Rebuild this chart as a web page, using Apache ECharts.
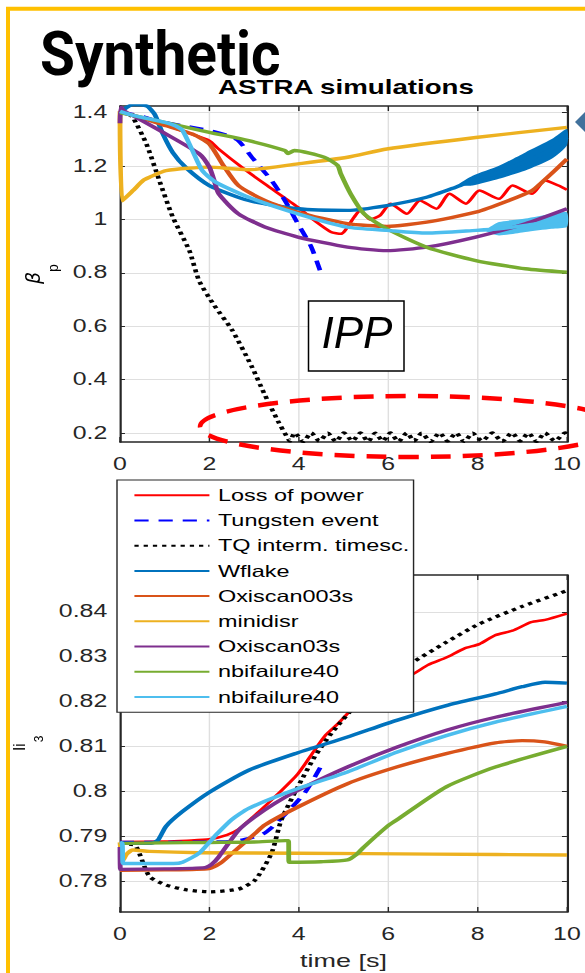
<!DOCTYPE html>
<html>
<head>
<meta charset="utf-8">
<script src="https://cdn.jsdelivr.net/npm/echarts@6/dist/echarts.min.js"></script>
<style>
  html, body { margin: 0; padding: 0; background: #fff; }
  #wrap { position: relative; width: 585px; height: 973px; overflow: hidden; }
  #plots { position: absolute; left: 0; top: 0; width: 412px; height: 973px; transform-origin: 0 0; }
  #marks { position: absolute; left: 0; top: 0; width: 585px; height: 973px; pointer-events: none; }
</style>
</head>
<body>
<div id="wrap"><div id="plots"></div><div id="marks"></div></div>
<script>
// ---- tick labels ----
const timeTicks = [0, 2, 4, 6, 8, 10];
const betaTicks = [0.2, 0.4, 0.6, 0.8, 1, 1.2, 1.4];
const li3Ticks = [0.78, 0.79, 0.8, 0.81, 0.82, 0.83, 0.84];

// ---- legend / series names ----
const seriesNames = ['Loss of power', 'Tungsten event', 'TQ interm. timesc.', 'Wflake',
  'Oxiscan003s', 'minidisr', 'Oxiscan03s', 'nbifailure40', 'nbifailure40 '];

// ---- beta_p vs time [s] ----
const betaLossPower = [[0,1.40],[0.5,1.38],[1.0,1.355],[1.5,1.325],[2.0,1.295],[2.2,1.265],[2.73,1.195],[3.24,1.133],[3.98,1.046],[4.35,0.996],[4.72,0.953],[4.94,0.946],[5.24,1.009],[5.38,1.034],[5.6,1.0],[5.82,1.015],[6.05,1.059],[6.42,1.021],[6.71,1.071],[7.08,1.04],[7.37,1.096],[7.74,1.059],[8.04,1.108],[8.48,1.077],[8.78,1.127],[9.22,1.096],[9.51,1.146],[9.81,1.127],[10,1.111]];
const betaTungsten = [[0,1.40],[0.4,1.39],[0.81,1.37],[1.4,1.351],[2.0,1.333],[2.4,1.315],[2.65,1.295],[2.95,1.233],[3.39,1.146],[3.69,1.071],[3.98,0.984],[4.28,0.897],[4.5,0.797]];
const betaTQ = [[0,1.40],[0.18,1.395],[0.29,1.382],[0.59,1.283],[0.88,1.146],[1.18,1.009],[1.55,0.884],[1.77,0.77],[2.1,0.68],[2.51,0.585],[2.95,0.448],[3.24,0.343],[3.54,0.243],[3.72,0.19],[3.8,0.17],[3.91,0.2],[4.1,0.168],[4.28,0.2],[4.46,0.17],[4.65,0.199],[4.83,0.168],[5.01,0.2],[5.2,0.17],[5.38,0.2],[5.55,0.168],[5.71,0.199],[5.88,0.17],[6.05,0.2],[6.23,0.168],[6.42,0.2],[6.58,0.17],[6.75,0.199],[6.95,0.168],[7.15,0.2],[7.33,0.17],[7.52,0.2],[7.7,0.168],[7.89,0.199],[8.1,0.17],[8.33,0.2],[8.55,0.168],[8.77,0.2],[8.95,0.17],[9.14,0.199],[9.32,0.168],[9.51,0.2],[9.73,0.17],[9.96,0.2],[10,0.195]];
const betaWflake = [[0,1.40],[0.15,1.42],[0.3,1.43],[0.6,1.425],[0.75,1.40],[0.81,1.382],[0.96,1.32],[1.18,1.251],[1.47,1.195],[2.0,1.127],[2.88,1.071],[3.98,1.04],[5.09,1.034],[5.97,1.052],[6.86,1.083],[7.5,1.12],[7.9,1.146],[8.48,1.177],[9.07,1.217],[9.66,1.264],[10,1.308]];
const betaWflakeBandLow = [[7.6,1.128],[7.89,1.127],[8.48,1.152],[9.07,1.183],[9.66,1.227],[10,1.277]];
const betaWflakeBandHigh = [[7.6,1.135],[7.89,1.164],[8.48,1.201],[9.07,1.251],[9.66,1.301],[10,1.339]];
const betaOxi003 = [[0,1.40],[0.3,1.39],[1.03,1.351],[1.62,1.32],[2.0,1.283],[2.29,1.208],[2.65,1.127],[3.24,1.071],[3.98,1.027],[5.09,0.984],[5.97,0.974],[6.86,0.99],[7.96,1.027],[8.7,1.071],[9.22,1.108],[9.44,1.139],[9.73,1.183],[10,1.226]];
const betaMinidisr = [[0,1.405],[0.05,1.07],[0.29,1.108],[0.52,1.146],[0.66,1.158],[1.03,1.183],[2.0,1.196],[2.5,1.19],[2.88,1.186],[3.98,1.208],[5.09,1.233],[5.97,1.264],[7.96,1.307],[10,1.345]];
const betaOxi03 = [[0,1.36],[0.02,1.42],[0.1,1.405],[0.29,1.389],[1.03,1.32],[1.77,1.246],[2.0,1.196],[2.1,1.15],[2.21,1.096],[2.65,1.021],[3.24,0.972],[3.98,0.934],[5.09,0.896],[5.97,0.883],[6.86,0.896],[7.96,0.934],[9.07,0.984],[10,1.04]];
const betaNbi = [[0,1.40],[0.29,1.39],[2.0,1.326],[2.88,1.295],[3.69,1.258],[3.76,1.247],[3.9,1.258],[4.57,1.233],[4.87,1.202],[4.94,1.171],[5.16,1.096],[5.46,1.021],[5.97,0.965],[6.86,0.896],[7.96,0.846],[9.07,0.815],[10,0.802]];
const betaNbi2 = [[0,1.405],[0.29,1.39],[1.03,1.363],[1.25,1.35],[1.4,1.333],[1.62,1.258],[1.84,1.183],[2.14,1.14],[2.88,1.083],[3.98,1.021],[5.09,0.971],[5.97,0.959],[6.86,0.949],[7.97,0.959],[8.48,0.965],[9.07,0.978],[9.66,0.993],[10,1.0]];
const betaNbi2BandLow = [[8.2,0.955],[8.48,0.94],[9.07,0.953],[9.66,0.965],[10,0.972]];
const betaNbi2BandHigh = [[8.2,0.962],[8.48,0.99],[9.07,1.003],[9.66,1.021],[10,1.027]];

// ---- li3 vs time [s] ----
const li3LossPower = [[0,0.7887],[1.0,0.7888],[1.5,0.789],[2.0,0.7893],[2.4,0.7903],[2.65,0.7915],[3.0,0.7945],[3.46,0.7987],[3.98,0.8039],[4.35,0.8091],[4.6,0.8125],[4.87,0.815],[5.31,0.8195],[5.8,0.8228],[6.19,0.8254],[6.49,0.8258],[6.9,0.8282],[7.3,0.8298],[7.7,0.8318],[8.04,0.8328],[8.4,0.8348],[8.78,0.8358],[9.2,0.8377],[9.51,0.8382],[10,0.8396]];
const li3Tungsten = [[0,0.7886],[1.0,0.7886],[2.0,0.7887],[2.5,0.7888],[2.8,0.7893],[3.2,0.7905],[3.46,0.7925],[4.13,0.7996],[4.5,0.8056]];
const li3TQ = [[0,0.7884],[0.33,0.788],[0.44,0.786],[0.66,0.781],[1.03,0.7791],[1.5,0.778],[2.0,0.7776],[2.65,0.7782],[3.02,0.7802],[3.39,0.7862],[3.61,0.7936],[3.98,0.801],[4.35,0.8076],[4.72,0.8128],[5.31,0.8195],[5.9,0.8245],[6.49,0.8284],[7.3,0.8332],[8.04,0.8373],[9.0,0.8412],[10,0.8447]];
const li3Wflake = [[0,0.7884],[0.7,0.7884],[0.85,0.7891],[1.03,0.7922],[1.4,0.7955],[2.0,0.7998],[2.88,0.8047],[3.98,0.8086],[5.09,0.8121],[6.19,0.8158],[7.3,0.8191],[8.4,0.8217],[9.0,0.8233],[9.51,0.8243],[10,0.8241]];
const li3Oxi003 = [[0,0.7824],[1.0,0.7825],[2.0,0.7828],[2.25,0.784],[2.51,0.7862],[3.02,0.7906],[3.24,0.7925],[3.98,0.7965],[5.09,0.8017],[6.19,0.8054],[7.3,0.8084],[8.4,0.8108],[9.0,0.8113],[9.5,0.811],[10,0.81]];
const li3Minidisr = [[0,0.7886],[0.06,0.7845],[0.15,0.786],[0.29,0.7869],[0.66,0.7866],[1.77,0.7863],[3.98,0.7862],[7.0,0.786],[10,0.7858]];
const li3Oxi03 = [[0,0.7876],[0.01,0.7826],[1.0,0.7827],[1.9,0.783],[2.05,0.7837],[2.21,0.7854],[2.65,0.7913],[3.0,0.7942],[3.46,0.7973],[3.98,0.8002],[5.09,0.8054],[6.19,0.8098],[7.3,0.8136],[8.4,0.8165],[10,0.8198]];
const li3Nbi = [[0,0.7884],[1,0.7885],[2,0.7886],[3,0.7887],[3.7,0.789],[3.77,0.789],[3.78,0.7842],[4.5,0.7843],[5.09,0.7847],[5.3,0.786],[5.46,0.7876],[5.97,0.7921],[6.19,0.7936],[7.3,0.801],[8.4,0.8054],[10,0.81]];
const li3Nbi2 = [[0,0.7886],[0.05,0.7884],[0.07,0.7839],[1.2,0.7839],[1.4,0.7842],[1.77,0.7862],[2.06,0.7893],[2.14,0.7902],[2.5,0.7937],[2.88,0.7962],[3.98,0.8006],[5.09,0.8043],[6.19,0.8087],[7.3,0.8124],[8.4,0.8154],[10,0.8189]];

// ---- drawing ----
const S = 585 / 412;                 // horizontal stretch of the plot figure
document.getElementById('plots').style.transform = 'scaleX(' + S + ')';

const FONT = '"Liberation Sans", Arial, sans-serif';
const AX = '#262626';
const GRIDLINE = '#dfdfdf';

const lineLooks = [
  { color: '#ff0000', width: 2.5, type: 'solid' },
  { color: '#0000ff', width: 3.3, type: [10, 7] },
  { color: '#000000', width: 3.3, type: [3, 3.5] },
  { color: '#0072BD', width: 3.4, type: 'solid' },
  { color: '#D95319', width: 3.4, type: 'solid' },
  { color: '#EDB120', width: 3.4, type: 'solid' },
  { color: '#7E2F8E', width: 3.4, type: 'solid' },
  { color: '#77AC30', width: 3.4, type: 'solid' },
  { color: '#4DBEEE', width: 3.4, type: 'solid' }
];

function lineSeries(i, data, g) {
  const look = lineLooks[i];
  return {
    type: 'line', name: seriesNames[i], xAxisIndex: g * 2, yAxisIndex: g * 2,
    data: data, symbol: 'none', smooth: 0.22, clip: true,
    lineStyle: { color: look.color, width: look.width, type: look.type, cap: 'butt', join: 'round' },
    itemStyle: { color: look.color },
    emphasis: { disabled: true }
  };
}

function bandSeries(i, low, high) {
  const color = lineLooks[i].color;
  return {
    type: 'custom', name: seriesNames[i], xAxisIndex: 0, yAxisIndex: 0,
    data: [low[0]], silent: true,
    renderItem: function (params, api) {
      const pts = high.map(p => api.coord(p)).concat(low.slice().reverse().map(p => api.coord(p)));
      return { type: 'polygon', shape: { points: pts, smooth: 0.2 }, style: { fill: color } };
    }
  };
}

const gridLeft = 120 / S, gridWidth = 452 / S;
const labelStyle = { color: AX, fontSize: 17.5, fontFamily: FONT };

function timeAxis(g, pos, withLabels, nameText) {
  return {
    type: 'value', gridIndex: g, position: pos, min: 0, max: 10, interval: 2,
    axisLine: { show: true, onZero: false, lineStyle: { color: AX, width: 1.5 } },
    axisTick: { show: true, inside: true, length: 5, lineStyle: { color: AX, width: 1 } },
    axisLabel: Object.assign({ show: withLabels, margin: 13.5 }, labelStyle),
    splitLine: { show: withLabels, lineStyle: { color: GRIDLINE, width: 1 } },
    name: nameText || '', nameLocation: 'middle', nameGap: 39,
    nameTextStyle: { color: AX, fontSize: 19, fontFamily: FONT }
  };
}

function valueAxis(g, pos, withLabels, min, max, ticks) {
  return {
    type: 'value', gridIndex: g, position: pos, min: min, max: max, splitNumber: ticks.length - 1,
    axisLine: { show: true, onZero: false, lineStyle: { color: AX, width: 1.5 } },
    axisTick: { show: true, inside: true, length: 3.5, customValues: ticks, lineStyle: { color: AX, width: 1 } },
    axisLabel: Object.assign({ show: withLabels, margin: 9, customValues: ticks,
      formatter: v => String(+(+v).toFixed(3)) }, labelStyle),
    splitLine: { show: withLabels, lineStyle: { color: GRIDLINE, width: 1 } }
  };
}

const plots = echarts.init(document.getElementById('plots'), null, { renderer: 'svg' });
plots.setOption({
  animation: false,
  backgroundColor: 'transparent',
  grid: [
    { left: gridLeft, top: 106, width: gridWidth, height: 336 },
    { left: gridLeft, top: 575, width: gridWidth, height: 337 }
  ],
  xAxis: [
    timeAxis(0, 'bottom', true),
    timeAxis(0, 'top', false),
    timeAxis(1, 'bottom', true, 'time [s]'),
    timeAxis(1, 'top', false)
  ],
  yAxis: [
    valueAxis(0, 'left', true, 0.166, 1.425, betaTicks),
    valueAxis(0, 'right', false, 0.166, 1.425, betaTicks),
    valueAxis(1, 'left', true, 0.7731, 0.8482, li3Ticks),
    valueAxis(1, 'right', false, 0.7731, 0.8482, li3Ticks)
  ],
  legend: {
    data: seriesNames, orient: 'vertical', left: 117 / S, top: 480,
    selectedMode: false, itemWidth: 75 / S, itemHeight: 16.5, itemGap: 8.2,
    padding: [6.8, 3, 6.8, 16 / S],
    backgroundColor: '#fff', borderColor: AX, borderWidth: 1, borderRadius: 0,
    itemStyle: { opacity: 0, borderWidth: 0 },
    textStyle: { color: '#000', fontSize: 16.5, fontFamily: FONT, padding: [0, 0, 0, 1] }
  },
  graphic: [
    { type: 'text', x: 346 / S, y: 87, style: { text: 'ASTRA simulations', fill: '#000',
      font: 'bold 19.5px ' + FONT, align: 'center', verticalAlign: 'middle',
      textAlign: 'center', textVerticalAlign: 'middle' } }
  ],
  series: [
    lineSeries(0, betaLossPower, 0),
    lineSeries(1, betaTungsten, 0),
    lineSeries(2, betaTQ, 0),
    lineSeries(3, betaWflake, 0),
    bandSeries(3, betaWflakeBandLow, betaWflakeBandHigh),
    lineSeries(4, betaOxi003, 0),
    lineSeries(5, betaMinidisr, 0),
    lineSeries(6, betaOxi03, 0),
    lineSeries(7, betaNbi, 0),
    lineSeries(8, betaNbi2, 0),
    bandSeries(8, betaNbi2BandLow, betaNbi2BandHigh),
    lineSeries(0, li3LossPower, 1),
    lineSeries(1, li3Tungsten, 1),
    lineSeries(2, li3TQ, 1),
    lineSeries(3, li3Wflake, 1),
    lineSeries(4, li3Oxi003, 1),
    lineSeries(5, li3Minidisr, 1),
    lineSeries(6, li3Oxi03, 1),
    lineSeries(7, li3Nbi, 1),
    lineSeries(8, li3Nbi2, 1)
  ]
});

// ---- slide annotations on top of the figure ----
function txt(x, y, text, font, rotation, align, scaleX) {
  return { type: 'text', x: x, y: y, rotation: rotation || 0, scaleX: scaleX || 1,
    style: { text: text, font: font, fill: '#000', align: align || 'center', verticalAlign: 'middle',
      textAlign: align || 'center', textVerticalAlign: 'middle' } };
}
const marks = echarts.init(document.getElementById('marks'), null, { renderer: 'canvas' });
marks.setOption({
  animation: false,
  graphic: [
    { type: 'polyline', shape: { points: [[8, 973], [8, 8.7], [585, 8.7]] },
      style: { stroke: '#FFC000', lineWidth: 4, fill: 'none' } },
    txt(40, 60, 'Synthetic', 'bold 61px Roboto', 0, 'left', 0.93),
    { type: 'rect', shape: { x: 308.5, y: 301, width: 95.5, height: 70 },
      style: { fill: '#fff', stroke: '#000', lineWidth: 1.5 } },
    txt(357, 336, 'IPP', 'italic 44px "Liberation Sans"'),
    { type: 'ellipse', shape: { cx: 410, cy: 426.5, rx: 210, ry: 30.5 },
      style: { fill: 'none', stroke: '#ff0000', lineWidth: 4.5, lineDash: [20, 12] } },
    { type: 'polygon', shape: { points: [[575, 122], [588, 109], [601, 122], [588, 135]] },
      style: { fill: '#41719C' } },
    txt(35, 278, 'β', 'italic 19px "DejaVu Sans"', Math.PI / 2),
    txt(54, 268, 'p', '14px "Liberation Sans"', Math.PI / 2),
    txt(20, 747, 'li', '17px "Liberation Sans"', Math.PI / 2),
    txt(40, 739, '3', '12px "Liberation Sans"', Math.PI / 2)
  ]
});
</script>
</body>
</html>
